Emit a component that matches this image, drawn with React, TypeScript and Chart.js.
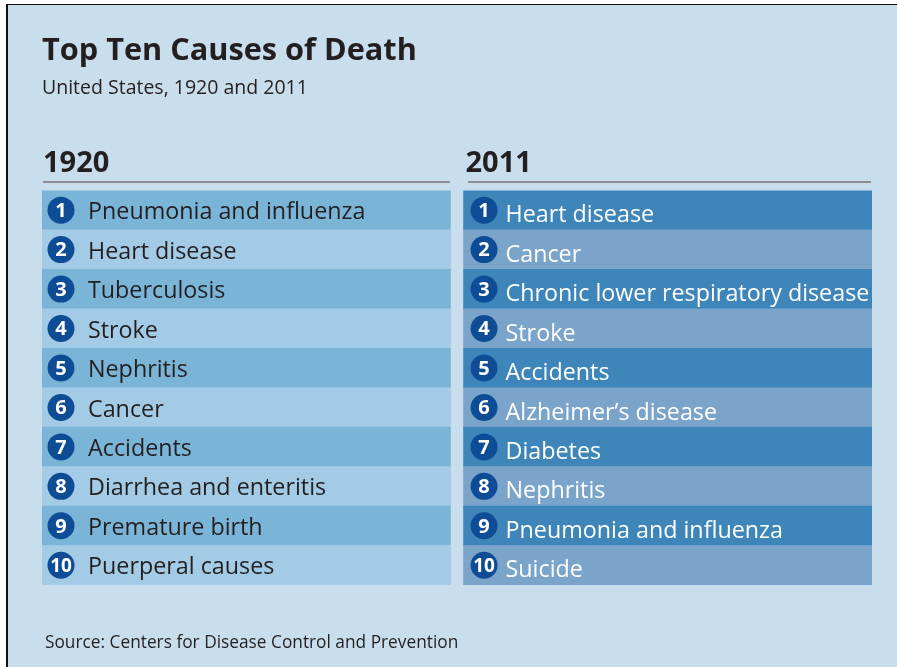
import React, { useEffect, useRef } from "react";
import { Chart, registerables } from "chart.js";

Chart.register(...registerables);

// ---- data ----
const ranks = ["1", "2", "3", "4", "5", "6", "7", "8", "9", "10"];
const causes1920 = [
  "Pneumonia and influenza",
  "Heart disease",
  "Tuberculosis",
  "Stroke",
  "Nephritis",
  "Cancer",
  "Accidents",
  "Diarrhea and enteritis",
  "Premature birth",
  "Puerperal causes",
];
const causes2011 = [
  "Heart disease",
  "Cancer",
  "Chronic lower respiratory disease",
  "Stroke",
  "Accidents",
  "Alzheimer\u2019s disease",
  "Diabetes",
  "Nephritis",
  "Pneumonia and influenza",
  "Suicide",
];
const panelYears = ["1920", "2011"];
const titleText = "Top Ten Causes of Death";
const subtitleText = "United States, 1920 and 2011";
const sourceText = "Source: Centers for Disease Control and Prevention";

// ---- style ----
const FONT = "'Open Sans', 'DejaVu Sans', sans-serif";
const INK = "#231f20";
const CIRCLE = "#0f4c96";
const GAP = 0.032; // gap between the two columns, in column widths
const PANELS = [
  {
    names: causes1920,
    colors: ["#7ab5d7", "#a3cbe5"],
    text: INK,
    textDx: 46,
    textDy: 2.5,
    circleDx: 19,
    headerDx: 1,
    lineStart: 1,
    lineEnd: 0.5,
  },
  {
    names: causes2011,
    colors: ["#3e86b9", "#7ba4cb"],
    text: "#ffffff",
    textDx: 42,
    textDy: 5.5,
    circleDx: 20.5,
    headerDx: 2,
    lineStart: 4.5,
    lineEnd: 1,
  },
];

const tablePlugin = {
  id: "tableText",
  afterDatasetsDraw(chart: any) {
    const ctx = chart.ctx as CanvasRenderingContext2D;
    const area = chart.chartArea;
    chart.data.datasets.forEach((_ds: any, di: number) => {
      const meta = chart.getDatasetMeta(di);
      const st = PANELS[di];
      const first = meta.data[0].getProps(["x", "base"], true);
      const left = Math.min(first.x, first.base);
      const right = Math.max(first.x, first.base);
      ctx.save();
      // header
      ctx.font = `bold 29px ${FONT}`;
      ctx.fillStyle = INK;
      ctx.textAlign = "left";
      ctx.textBaseline = "alphabetic";
      ctx.fillText(panelYears[di], left + st.headerDx, area.top - 18.5);
      // rule
      ctx.strokeStyle = "#8c8f93";
      ctx.lineWidth = 2;
      ctx.beginPath();
      ctx.moveTo(left + st.lineStart, area.top - 8.5);
      ctx.lineTo(right - st.lineEnd, area.top - 8.5);
      ctx.stroke();
      // rows
      meta.data.forEach((bar: any, i: number) => {
        const p = bar.getProps(["x", "y", "base"], true);
        const x0 = Math.min(p.x, p.base);
        const cx = x0 + st.circleDx;
        const cy = p.y;
        ctx.beginPath();
        ctx.fillStyle = CIRCLE;
        ctx.arc(cx, cy, 13.5, 0, Math.PI * 2);
        ctx.fill();
        ctx.fillStyle = "#ffffff";
        ctx.textAlign = "center";
        ctx.textBaseline = "middle";
        const r = ranks[i];
        ctx.font = `bold ${r.length > 1 ? 19 : 20}px ${FONT}`;
        ctx.fillText(r, cx, cy + 1);
        ctx.fillStyle = st.text;
        ctx.textAlign = "left";
        ctx.font = `23.3px ${FONT}`;
        ctx.fillText(st.names[i], x0 + st.textDx, cy + st.textDy);
      });
      ctx.restore();
    });
    ctx.save();
    ctx.font = `17.3px ${FONT}`;
    ctx.fillStyle = INK;
    ctx.textAlign = "left";
    ctx.textBaseline = "alphabetic";
    ctx.fillText(sourceText, area.left + 3, area.bottom + 63);
    ctx.restore();
  },
};

export default function App() {
  const ref = useRef<HTMLCanvasElement | null>(null);
  useEffect(() => {
    if (!ref.current) return;
    const chart = new Chart(ref.current, {
      type: "bar",
      data: {
        labels: ranks,
        datasets: PANELS.map((st, di) => ({
          label: panelYears[di],
          data: ranks.map(() => [di * (1 + GAP), di * (1 + GAP) + 1]) as any,
          backgroundColor: ranks.map((_r, i) => st.colors[i % 2]),
          borderWidth: 0,
          barPercentage: 1,
          categoryPercentage: 1,
          grouped: false,
        })),
      },
      options: {
        indexAxis: "y",
        responsive: false,
        animation: false,
        devicePixelRatio: 1,
        layout: { padding: { left: 42, right: 25, top: 0, bottom: 82 } },
        scales: {
          x: { type: "linear", min: 0, max: 2 + GAP, display: false },
          y: { type: "category", display: false, offset: true },
        },
        plugins: {
          legend: { display: false },
          tooltip: { enabled: false },
          title: {
            display: true,
            text: titleText,
            align: "start",
            color: INK,
            font: { family: FONT, size: 30.7, weight: "bold", lineHeight: 1.2 },
            padding: { top: 32.5, bottom: 0 },
          },
          subtitle: {
            display: true,
            text: subtitleText,
            align: "start",
            color: INK,
            font: { family: FONT, size: 19.5, lineHeight: 1.2 },
            padding: { top: 7, bottom: 90.7 },
          },
        },
      },
      plugins: [tablePlugin],
    });
    return () => chart.destroy();
  }, []);

  return (
    <div
      style={{
        position: "absolute",
        left: 0,
        top: 0,
        width: 897,
        height: 667,
        background: "#ffffff",
        overflow: "hidden",
      }}
    >
      <div
        style={{
          position: "absolute",
          left: 6,
          top: 4,
          right: 0,
          bottom: 0,
          background: "#c9deec",
          borderLeft: "2px solid #111111",
          borderTop: "1px solid #111111",
        }}
      />
      <canvas
        ref={ref}
        width={897}
        height={667}
        style={{ position: "absolute", left: 0, top: 0, width: 897, height: 667 }}
      />
    </div>
  );
}
